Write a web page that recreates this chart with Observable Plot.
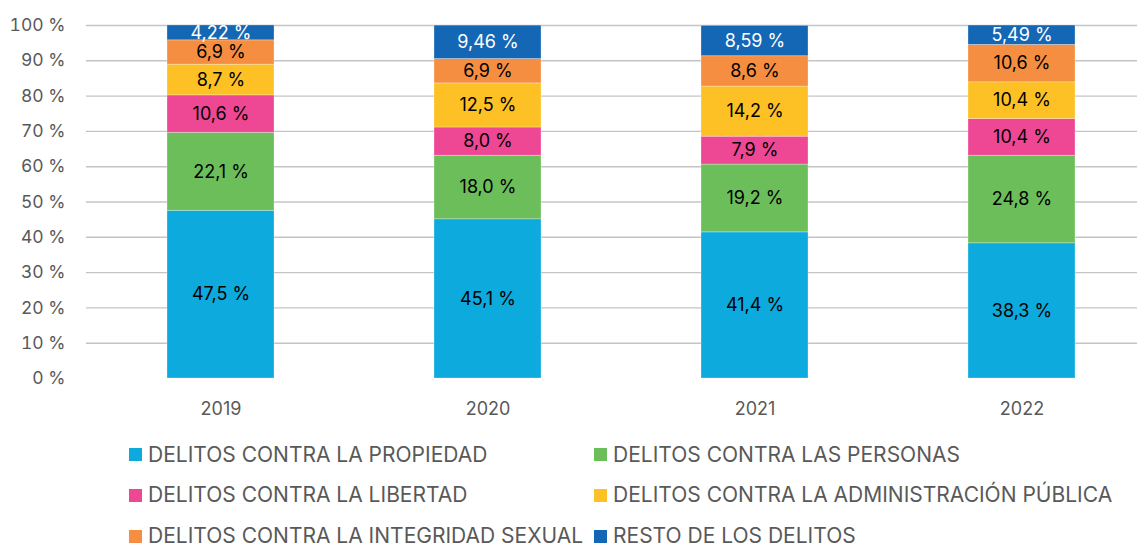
<!DOCTYPE html>
<html><head><meta charset="utf-8">
<script src="https://cdn.jsdelivr.net/npm/d3@7"></script>
<script src="https://cdn.jsdelivr.net/npm/@observablehq/plot@0.6"></script>
<style>
body{margin:0;background:#fff;font-family:Inter, "Noto Sans", sans-serif;}
#wrap{position:relative;width:1137px;height:545px;overflow:hidden;background:#fff;}
#chart svg{display:block;}
.leg{position:absolute;display:flex;align-items:center;font-size:21px;line-height:16px;color:#595959;white-space:nowrap;height:16px;}
.sw{width:13px;height:13px;margin-right:6px;flex:none;}
</style></head><body>
<div id="wrap"><div id="chart"></div></div>
<script>
const years = ["2019", "2020", "2021", "2022"];
const categories = [
  "DELITOS CONTRA LA PROPIEDAD",
  "DELITOS CONTRA LAS PERSONAS",
  "DELITOS CONTRA LA LIBERTAD",
  "DELITOS CONTRA LA ADMINISTRACIÓN PÚBLICA",
  "DELITOS CONTRA LA INTEGRIDAD SEXUAL",
  "RESTO DE LOS DELITOS"
];
const colors = ["#0DAADD", "#6CBE5A", "#EE4895", "#FDC125", "#F68E41", "#1467B5"];
const propiedad = [47.5, 45.1, 41.4, 38.3];
const personas = [22.1, 18.0, 19.2, 24.8];
const libertad = [10.6, 8.0, 7.9, 10.4];
const administracion = [8.7, 12.5, 14.2, 10.4];
const integridad = [6.9, 6.9, 8.6, 10.6];
const resto = [4.22, 9.46, 8.59, 5.49];
const decimals = [1, 1, 1, 1, 1, 2];
const yTicks = [0, 10, 20, 30, 40, 50, 60, 70, 80, 90, 100];

const series = [propiedad, personas, libertad, administracion, integridad, resto];
const data = [];
series.forEach((vals, ci) => {
  vals.forEach((v, yi) => {
    data.push({year: years[yi], cat: categories[ci], ci, value: v,
      label: v.toFixed(decimals[ci]).replace(".", ",") + " %"});
  });
});

const plot = Plot.plot({
  width: 1137,
  height: 430,
  marginLeft: 86,
  marginRight: 0,
  marginTop: 25,
  marginBottom: 52,
  style: {fontFamily: "Inter, 'Noto Sans', sans-serif", fontSize: "18px", color: "#595959", background: "white"},
  x: {domain: years, range: [86, 1156], paddingInner: 0.6, paddingOuter: 0.3, label: null},
  y: {domain: [0, 100], label: null},
  color: {type: "identity"},
  marks: [
    Plot.gridY(yTicks.filter(d => d > 0), {stroke: "#c4c4c4", strokeOpacity: 1, strokeWidth: 1.4}),
    Plot.axisY(yTicks, {tickSize: 0, tickPadding: 21, tickFormat: d => d + " %", fontSize: 17.5, fill: "#595959"}),
    Plot.axisX({tickSize: 0, tickPadding: 24, fontSize: 18, fill: "#595959"}),
    Plot.barY(data, Plot.stackY({x: "year", y: "value", z: "cat", fill: d => colors[d.ci], stroke: "white", strokeOpacity: 0.35, strokeWidth: 0.8})),
    Plot.text(data, Plot.stackY({x: "year", y: "value", z: "cat", text: "label",
      fill: d => d.ci === 5 ? "#ffffff" : "#000000", fontSize: 18}))
  ]
});
document.getElementById("chart").appendChild(plot);

// legend (HTML, below the SVG)
const legPos = [
  [129, 446.5], [594, 446.5],
  [129, 487], [594, 487],
  [129, 528], [594, 528]
];
const wrap = document.getElementById("wrap");
categories.forEach((c, i) => {
  const el = document.createElement("div");
  el.className = "leg";
  el.style.left = legPos[i][0] + "px";
  el.style.top = legPos[i][1] + "px";
  const sw = document.createElement("span");
  sw.className = "sw";
  sw.style.background = colors[i];
  const tx = document.createElement("span");
  tx.textContent = c;
  el.appendChild(sw); el.appendChild(tx);
  wrap.appendChild(el);
});
</script>
</body></html>
